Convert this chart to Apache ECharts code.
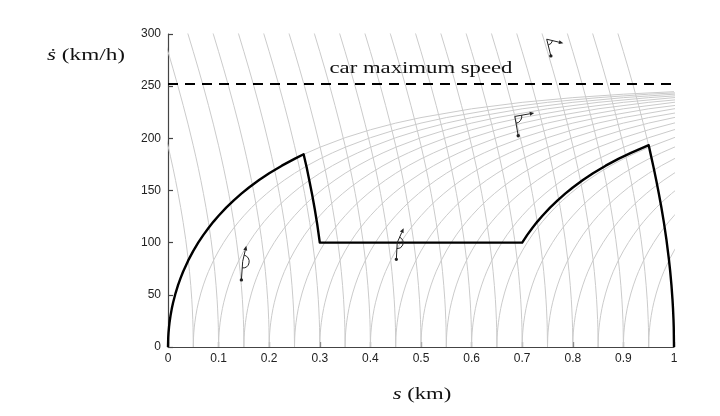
<!DOCTYPE html>
<html>
<head>
<meta charset="utf-8">
<script src="https://cdn.jsdelivr.net/npm/echarts@6/dist/echarts.min.js"></script>
<style>html,body{margin:0;padding:0;background:#fff}#c{width:720px;height:416px}</style>
</head>
<body>
<div id="c"></div>
<script>
// ---- data ----
// shape of one acceleration curve: distance from its start (km) vs speed (km/h)
const accelShapeD = [0, 0.0005, 0.001, 0.002, 0.003, 0.005, 0.0075, 0.01, 0.015, 0.02, 0.025, 0.03, 0.04, 0.05, 0.06, 0.07, 0.08, 0.09, 0.1, 0.115, 0.13, 0.145, 0.16, 0.18, 0.2, 0.225, 0.25, 0.275, 0.3, 0.35, 0.4, 0.45, 0.5, 0.6, 0.7, 0.8, 0.9, 1.0];
const accelShapeV = [0, 9.5, 13.5, 19.1, 23.3, 30.1, 36.8, 42.4, 51.7, 59.5, 66.3, 72.4, 83, 92.1, 100.2, 107.5, 114.1, 120.2, 125.8, 133.6, 140.6, 147, 152.9, 160, 166.5, 173.8, 180.3, 186.1, 191.4, 200.6, 208.2, 214.6, 219.9, 228.3, 234.5, 239, 242.3, 244.7];
// shape of one braking curve: distance before its end (km) vs speed (km/h)
const decelShapeU = [0.12, 0.11, 0.1, 0.09, 0.08, 0.07, 0.06, 0.05, 0.045, 0.04, 0.035, 0.03, 0.025, 0.02, 0.015, 0.01, 0.0075, 0.005, 0.003, 0.002, 0.001, 0.0005, 0];
const decelShapeV = [315, 299.2, 283.1, 266.6, 249.5, 231.6, 212.9, 192.9, 182.3, 171.3, 159.6, 147.2, 133.9, 119.4, 103, 83.8, 72.4, 59, 45.7, 37.3, 26.3, 18.6, 0];
// where the grey curves start (acceleration) and end (braking), km
const accelStarts = [0, 0.05, 0.1, 0.15, 0.2, 0.25, 0.3, 0.35, 0.4, 0.45, 0.5, 0.55, 0.6, 0.65, 0.7, 0.75, 0.8, 0.85, 0.9, 0.95];
const decelEnds = [0.05, 0.1, 0.15, 0.2, 0.25, 0.3, 0.35, 0.4, 0.45, 0.5, 0.55, 0.6, 0.65, 0.7, 0.75, 0.8, 0.85, 0.9, 0.95, 1.0];
// black speed profile
const profileS = [0, 0.0005, 0.001, 0.002, 0.003, 0.005, 0.0075, 0.01, 0.015, 0.02, 0.025, 0.03, 0.04, 0.05, 0.06, 0.07, 0.08, 0.09, 0.1, 0.115, 0.13, 0.145, 0.16, 0.18, 0.2, 0.225, 0.25, 0.268,
  0.274, 0.28, 0.285, 0.29, 0.295, 0.3,
  0.7, 0.71, 0.72, 0.73, 0.74, 0.755, 0.77, 0.785, 0.8, 0.82, 0.84, 0.865, 0.89, 0.915, 0.94, 0.95,
  0.955, 0.96, 0.965, 0.97, 0.975, 0.98, 0.985, 0.99, 0.9925, 0.995, 0.997, 0.998, 0.999, 0.9995, 1.0];
const profileV = [0, 9.5, 13.5, 19.1, 23.3, 30.1, 36.8, 42.4, 51.7, 59.5, 66.3, 72.4, 83, 92.1, 100.2, 107.5, 114.1, 120.2, 125.8, 133.6, 140.6, 147, 152.9, 160, 166.5, 173.8, 180.3, 184.8,
  172.2, 157.8, 145.6, 132.2, 117.4, 100,
  100, 107.5, 114.1, 120.2, 125.8, 133.6, 140.6, 147, 152.9, 160, 166.5, 173.8, 180.3, 186.1, 191.4, 193.4,
  182.3, 171.3, 159.6, 147.2, 133.9, 119.4, 103, 83.8, 72.4, 59, 45.7, 37.3, 26.3, 18.6, 0];
const maxSpeed = 252;
const maxSpeedLabel = 'car maximum speed';
// angle glyph anchors (s, speed)
const glyphS = [0.1476, 0.453, 0.6854, 0.7484];
const glyphV = [82, 100, 221, 295];
const xTickLabels = ['0', '0.1', '0.2', '0.3', '0.4', '0.5', '0.6', '0.7', '0.8', '0.9', '1'];
const yTickLabels = ['0', '50', '100', '150', '200', '250', '300'];

// ---- styling ----
const glyphRays = [
  {dotA: 94, dotL: 18.5, arrA: -77, arrL: 16, r: 6.5},
  {dotA: 93, dotL: 16.7, arrA: -66, arrL: 15.7, r: 6},
  {dotA: 80, dotL: 19.6, arrA: -10, arrL: 19.7, r: 7},
  {dotA: 76, dotL: 17.2, arrA: 13.5, arrL: 17.1, r: 6}
];
const grey = '#cbcbcb';
const series = [];
accelStarts.forEach(s0 => {
  series.push({type: 'line', silent: true, showSymbol: false, symbol: 'none',
    lineStyle: {color: grey, width: 1}, z: 1,
    data: accelShapeD.map((d, i) => [s0 + d, accelShapeV[i]])});
});
decelEnds.forEach(se => {
  series.push({type: 'line', silent: true, showSymbol: false, symbol: 'none',
    lineStyle: {color: grey, width: 1}, z: 1,
    data: decelShapeU.map((u, i) => [se - u, decelShapeV[i]])});
});
series.push({type: 'line', silent: true, showSymbol: false, symbol: 'none',
  lineStyle: {color: '#000', width: 2, type: [10, 7]}, z: 5,
  data: [[0, maxSpeed], [1, maxSpeed]]});
series.push({type: 'line', silent: true, showSymbol: false, symbol: 'none',
  lineStyle: {color: '#000', width: 2.4, join: 'round'}, z: 6,
  data: profileS.map((s, i) => [s, profileV[i]])});
series.push({type: 'custom', silent: true, z: 7, clip: false,
  data: glyphS.map((s, i) => [s, glyphV[i]]),
  renderItem: function (params, api) {
    const p = api.coord([api.value(0), api.value(1)]);
    const g = glyphRays[params.dataIndex];
    const rad = a => a * Math.PI / 180;
    const da = rad(g.dotA), aa = rad(g.arrA);
    const D = [p[0] + g.dotL * Math.cos(da), p[1] + g.dotL * Math.sin(da)];
    const T = [p[0] + g.arrL * Math.cos(aa), p[1] + g.arrL * Math.sin(aa)];
    const ux = Math.cos(aa), uy = Math.sin(aa);
    const B = [T[0] - 4.5 * ux, T[1] - 4.5 * uy];
    const st = {stroke: '#222', lineWidth: 1, fill: null};
    return {type: 'group', children: [
      {type: 'line', shape: {x1: p[0], y1: p[1], x2: D[0], y2: D[1]}, style: st},
      {type: 'circle', shape: {cx: D[0], cy: D[1], r: 1.7}, style: {fill: '#222'}},
      {type: 'line', shape: {x1: p[0], y1: p[1], x2: B[0], y2: B[1]}, style: st},
      {type: 'polygon', shape: {points: [T, [B[0] - 2 * uy, B[1] + 2 * ux], [B[0] + 2 * uy, B[1] - 2 * ux]]}, style: {fill: '#222'}},
      {type: 'arc', shape: {cx: p[0], cy: p[1], r: g.r, startAngle: aa, endAngle: da, clockwise: true}, style: st}
    ]};
  }
});

const chart = echarts.init(document.getElementById('c'), null, {renderer: 'canvas'});
const axisCommon = {
  axisLine: {show: true, lineStyle: {color: '#444', width: 1.2}},
  axisTick: {show: true, inside: true, length: 5, lineStyle: {color: '#444', width: 1.2}},
  splitLine: {show: false}
};
chart.setOption({
  animation: false,
  backgroundColor: '#fff',
  grid: {left: 168, right: 46, top: 34, bottom: 69, containLabel: false},
  xAxis: Object.assign({type: 'value', min: 0, max: 1, interval: 0.1,
    axisLabel: {color: '#222', fontSize: 12, fontFamily: '"Liberation Sans", Arial, sans-serif', margin: 6,
      formatter: v => xTickLabels[Math.round(v * 10)]}}, axisCommon),
  yAxis: Object.assign({type: 'value', min: 0, max: 300, interval: 50,
    axisLabel: {color: '#222', fontSize: 12, fontFamily: '"Liberation Sans", Arial, sans-serif', margin: 7,
      formatter: v => yTickLabels[Math.round(v / 50)]}}, axisCommon),
  series: series,
  graphic: [
    {type: 'text', x: 421, y: 69, scaleX: 1.42, z: 10, silent: true,
      style: {text: maxSpeedLabel, font: '16px "Liberation Serif", serif', fill: '#111',
        align: 'center', verticalAlign: 'middle', textAlign: 'center', textVerticalAlign: 'middle'}},
    {type: 'text', x: 86, y: 56, scaleX: 1.45, z: 10, silent: true,
      style: {rich: {i: {fontStyle: 'italic', fontFamily: '"Liberation Serif", serif', fontSize: 16}},
        text: '{i|ṡ} (km/h)', font: '16px "Liberation Serif", serif', fill: '#111',
        align: 'center', verticalAlign: 'middle', textAlign: 'center', textVerticalAlign: 'middle'}},
    {type: 'text', x: 422, y: 395, scaleX: 1.42, z: 10, silent: true,
      style: {rich: {i: {fontStyle: 'italic', fontFamily: '"Liberation Serif", serif', fontSize: 16}},
        text: '{i|s} (km)', font: '16px "Liberation Serif", serif', fill: '#111',
        align: 'center', verticalAlign: 'middle', textAlign: 'center', textVerticalAlign: 'middle'}}
  ]
});
</script>
</body>
</html>
